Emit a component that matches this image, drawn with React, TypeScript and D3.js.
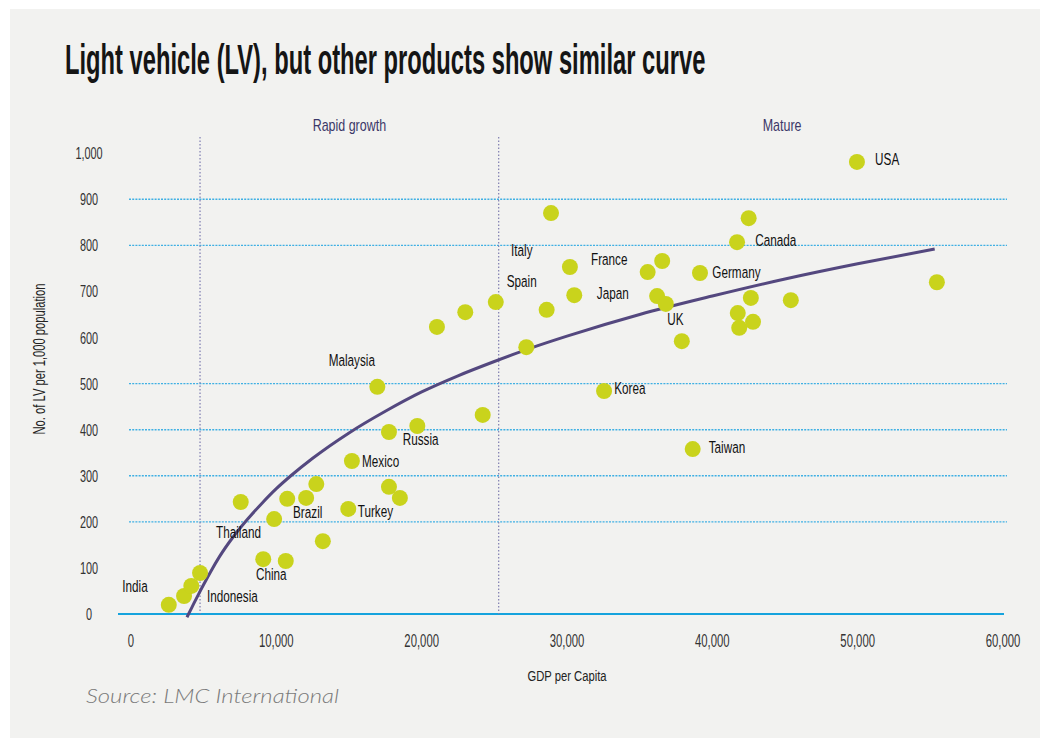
import * as d3 from 'd3';

// GDP per capita (x) and light vehicles per 1,000 population (y), one entry per dot
const gdpPerCapita = [
  2600, 3650, 4150, 4750, 9100, 10650, 7550, 9850, 10750, 12050, 12750, 13200,
  14950, 17750, 18500, 15200, 17750, 19700, 16950, 24200, 21050, 23000, 25100,
  27200, 28600, 28900, 30200, 30500, 32550, 35550, 36550, 36200, 36800, 37900,
  38650, 39150, 41700, 42500, 41750, 41850, 42650, 42800, 45400, 49950, 55450,
];
const lvPer1000 = [
  20, 39, 61, 89, 119, 115, 243, 206, 250, 252, 282, 158,
  228, 276, 252, 332, 395, 408, 493, 432, 623, 655, 677,
  579, 660, 870, 753, 692, 484, 742, 766, 690, 673, 592,
  358, 740, 807, 859, 653, 621, 686, 634, 681, 981, 720,
];

// country names, anchored in data space (start of text, baseline)
const labelNames = [
  'India', 'Indonesia', 'China', 'Thailand', 'Brazil', 'Turkey', 'Mexico', 'Russia',
  'Malaysia', 'Italy', 'Spain', 'France', 'Japan', 'UK', 'Korea', 'Taiwan',
  'Germany', 'Canada', 'USA',
];
const labelGdp = [
  -600, 5230, 8600, 5850, 11150, 15600, 15900, 18700, 13600, 26150, 25850, 31650,
  32050, 36900, 33250, 39750, 40000, 42950, 51200,
];
const labelLv = [
  48, 26, 74, 165, 208, 210, 319, 367, 538, 777, 710, 757, 684, 627, 477, 349,
  729, 799, 974,
];

// trend curve
const trendGdp = [
  3850, 4200, 4600, 5000, 5500, 6100, 7000, 8000, 9000, 10000, 11000, 12500,
  15000, 17500, 20000, 22500, 25000, 27500, 30000, 35000, 40000, 45000, 50000, 55300,
];
const trendLv = [
  -7, 15, 40, 64, 93, 125, 166, 205, 240, 272, 300, 338,
  393, 440, 482, 517, 548, 577, 603, 650, 690, 727, 760, 792,
];

const xTicks = [0, 10000, 20000, 30000, 40000, 50000, 60000];
const yTicks = [0, 100, 200, 300, 400, 500, 600, 700, 800, 900, 1000];
const gridValues = [200, 300, 400, 500, 800, 900];

const phaseLines = [4750, 25300];
const phaseNames = ['Rapid growth', 'Mature'];
const phaseLabelGdp = [15025, 44800];

const FONT = "'Liberation Sans', Arial, sans-serif";

function CText(props: {
  x: number; y: number; size: number; sx: number; anchor?: string;
  fill?: string; weight?: number | string; rotate?: number; children: any;
}) {
  const { x, y, size, sx, anchor = 'start', fill = '#1a1a1a', weight = 400, rotate = 0, children } = props;
  return (
    <text
      transform={`translate(${x},${y}) rotate(${rotate}) scale(${sx},1)`}
      fontSize={size}
      fontFamily={FONT}
      fontWeight={weight}
      textAnchor={anchor}
      fill={fill}
    >
      {children}
    </text>
  );
}

export default function App() {
  const W = 1040;
  const H = 738;

  const x = d3.scaleLinear().domain([0, 60000]).range([131, 1003]);
  const y = d3.scaleLinear().domain([0, 1000]).range([614, 153.2]);

  const fmt = d3.format(',');

  const trend = d3
    .line<number>()
    .x((_, i) => x(trendGdp[i]))
    .y((_, i) => y(trendLv[i]))
    .curve(d3.curveMonotoneX)(trendLv);

  return (
    <svg
      width={W}
      height={H}
      style={{ position: 'absolute', left: 0, top: 0, background: '#ffffff' }}
    >
      <rect x={10} y={9} width={W - 10} height={H - 9} fill="#f2f2f0" />

      <CText x={65} y={74} size={42} sx={0.565} weight={700} fill="#151515">
        Light vehicle (LV), but other products show similar curve
      </CText>

      {/* grid */}
      {gridValues.map((v) => (
        <line
          key={v}
          x1={129}
          x2={1007}
          y1={y(v)}
          y2={y(v)}
          stroke="#3fb0e3"
          strokeWidth={1.4}
          strokeDasharray="2,1.2"
        />
      ))}
      <line x1={118} x2={1004} y1={y(0)} y2={y(0)} stroke="#16a3dd" strokeWidth={2} />

      {/* phase separators */}
      {phaseLines.map((g) => (
        <line
          key={g}
          x1={x(g)}
          x2={x(g)}
          y1={137}
          y2={y(0)}
          stroke="#7f7db0"
          strokeWidth={1.2}
          strokeDasharray="1.5,2"
        />
      ))}
      {phaseNames.map((n, i) => (
        <CText key={n} x={x(phaseLabelGdp[i])} y={131} size={16} sx={0.78} anchor="middle" fill="#3b3768">
          {n}
        </CText>
      ))}

      {/* axes labels */}
      {yTicks.map((v) => (
        <CText key={v} x={89} y={y(v) + 6} size={17} sx={0.64} anchor="middle" fill="#333">
          {fmt(v)}
        </CText>
      ))}
      {xTicks.map((v) => (
        <CText key={v} x={x(v)} y={647} size={18} sx={0.63} anchor="middle" fill="#333">
          {fmt(v)}
        </CText>
      ))}
      <CText x={45} y={359} size={16} sx={0.7} anchor="middle" rotate={-90} fill="#222">
        No. of LV per 1,000 population
      </CText>
      <CText x={567} y={681} size={15} sx={0.75} anchor="middle" fill="#222">
        GDP per Capita
      </CText>

      {/* trend */}
      <path d={trend ?? ''} fill="none" stroke="#54487f" strokeWidth={3} />

      {/* dots */}
      {gdpPerCapita.map((g, i) => (
        <circle key={i} cx={x(g)} cy={y(lvPer1000[i])} r={8} fill="#c9d31c" />
      ))}

      {/* country labels */}
      {labelNames.map((n, i) => (
        <CText key={n} x={x(labelGdp[i])} y={y(labelLv[i])} size={17} sx={0.69} fill="#111">
          {n}
        </CText>
      ))}

      <text
        x={86}
        y={703}
        fontSize={20}
        fontFamily="Lato, 'Open Sans', sans-serif"
        fontStyle="italic"
        fontWeight={300}
        fill="#7a7a7a"
        textLength={253}
        lengthAdjust="spacingAndGlyphs"
      >
        Source: LMC International
      </text>
    </svg>
  );
}
